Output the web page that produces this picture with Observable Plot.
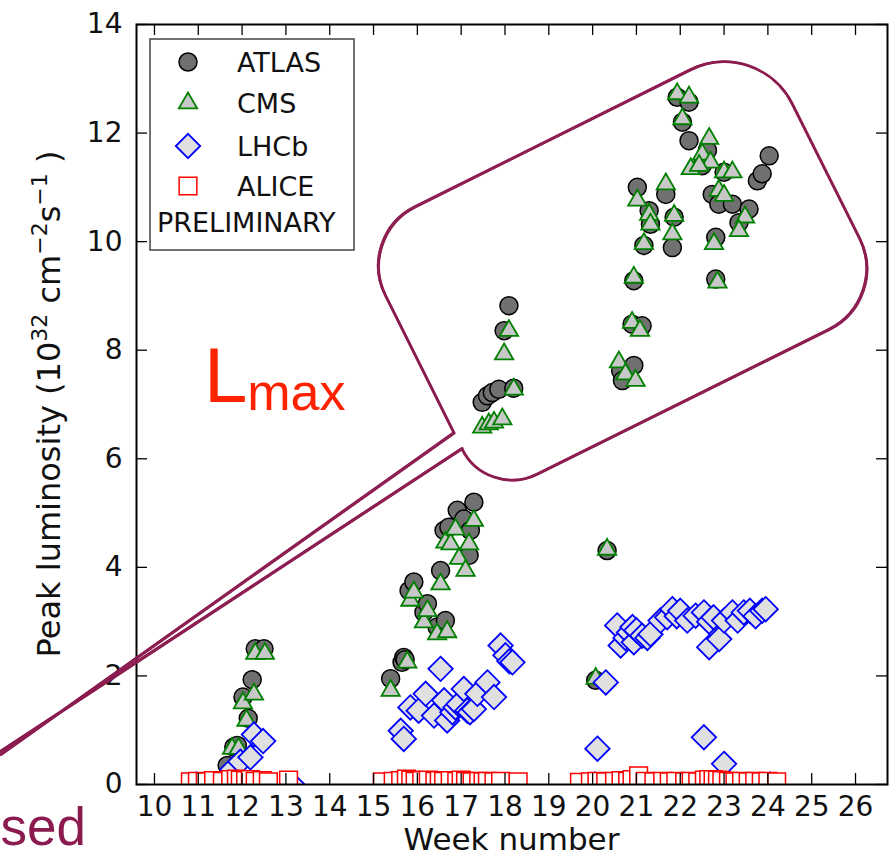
<!DOCTYPE html>
<html>
<head>
<meta charset="utf-8">
<script src="https://cdn.jsdelivr.net/npm/d3@7"></script>
<script src="https://cdn.jsdelivr.net/npm/@observablehq/plot@0.6"></script>
<style>
html, body { margin: 0; padding: 0; background: #fff; }
#chart svg { display: block; }
</style>
</head>
<body>
<div id="chart"></div>
<script>
// ---------------- data (week number, peak luminosity in 1e32 cm^-2 s^-1) ----------------
const xTicks = [10, 11, 12, 13, 14, 15, 16, 17, 18, 19, 20, 21, 22, 23, 24, 25, 26];
const yTicks = [0, 2, 4, 6, 8, 10, 12, 14];
const seriesNames = ["ATLAS", "CMS", "LHCb", "ALICE"];

const atlas = [
  [11.66, 0.35], [11.81, 0.69], [11.89, 0.72], [12.02, 1.61], [12.14, 1.22], [12.23, 1.93], [12.30, 2.50], [12.50, 2.50],
  [15.39, 1.95], [15.65, 2.25], [15.69, 2.34], [15.72, 2.30], [15.81, 3.57], [15.92, 3.73], [16.15, 3.17], [16.23, 3.33],
  [16.45, 2.90], [16.64, 3.02], [16.53, 3.94], [16.61, 4.68], [16.72, 4.74], [16.91, 5.05], [17.06, 4.89], [17.21, 4.68],
  [17.18, 4.22], [17.29, 5.20],
  [17.48, 7.04], [17.60, 7.16], [17.71, 7.22], [17.86, 7.28], [18.20, 7.30], [17.98, 8.36], [18.09, 8.82],
  [20.07, 1.92], [20.33, 4.31],
  [20.64, 7.62], [20.68, 7.44], [20.94, 7.72], [20.90, 8.48], [21.13, 8.45], [20.94, 9.28],
  [21.02, 11.00], [21.29, 10.57], [21.32, 10.32], [21.17, 9.93], [21.67, 10.87], [21.86, 10.45], [21.82, 9.89],
  [21.93, 12.66], [22.20, 12.57], [22.05, 12.20], [22.20, 11.86], [22.62, 11.68], [22.50, 11.40], [23.00, 11.28],
  [22.73, 10.87], [22.88, 10.69], [23.19, 10.69], [23.34, 10.35], [23.57, 10.60], [22.81, 10.08], [22.81, 9.31],
  [23.76, 11.12], [23.87, 11.25], [24.03, 11.58]
];

const cms = [
  [11.77, 0.66], [11.92, 0.66], [12.02, 1.50], [12.10, 1.18], [12.27, 1.66], [12.30, 2.41], [12.52, 2.41],
  [15.39, 1.73], [15.77, 2.25], [15.84, 3.39], [15.92, 3.54], [16.15, 2.99], [16.23, 3.20], [16.45, 2.77], [16.68, 2.81],
  [16.53, 3.69], [16.64, 4.46], [16.76, 4.43], [16.87, 4.70], [16.95, 4.16], [17.10, 3.94], [17.18, 4.43], [17.29, 4.86],
  [17.48, 6.58], [17.63, 6.64], [17.75, 6.67], [17.94, 6.73], [18.20, 7.28], [17.98, 7.93], [18.09, 8.36],
  [20.07, 1.95], [20.33, 4.33],
  [20.60, 7.78], [20.75, 7.56], [20.98, 7.44], [20.90, 8.51], [21.08, 8.36], [20.94, 9.34],
  [21.02, 10.76], [21.29, 10.50], [21.32, 10.32], [21.17, 9.96], [21.67, 11.06], [21.86, 10.48], [21.82, 10.14],
  [21.93, 12.72], [22.20, 12.66], [22.05, 12.26], [22.66, 11.90], [22.50, 11.61], [22.69, 11.46], [22.24, 11.34],
  [22.43, 11.40], [23.00, 11.28], [23.19, 11.28], [22.88, 10.94], [23.00, 10.85], [23.48, 10.45], [23.34, 10.20],
  [22.77, 9.96], [22.85, 9.25]
];

const lhcb = [
  [10.95, 0.00], [11.15, 0.00], [11.78, 0.28], [11.96, 0.42], [12.19, 0.50], [12.27, 0.92], [12.48, 0.80], [13.15, 0.00],
  [15.40, 0.00], [15.85, 0.00], [15.62, 0.99], [15.69, 0.84], [15.84, 1.42], [16.03, 1.36], [16.19, 1.67], [16.38, 1.27],
  [16.53, 2.13], [16.61, 1.55], [16.68, 1.18], [16.80, 1.33], [16.87, 1.42], [16.94, 1.48], [17.06, 1.76], [17.14, 1.36],
  [17.20, 1.33], [17.29, 1.39], [17.37, 1.67], [17.60, 1.88], [17.75, 1.61], [17.90, 2.56], [18.01, 2.38], [18.10, 2.27],
  [18.17, 2.25],
  [20.05, 0.00], [20.11, 0.66], [20.30, 1.88], [20.56, 2.93], [20.64, 2.56], [20.75, 2.70], [20.83, 2.80], [20.91, 2.90],
  [20.94, 2.62], [21.00, 2.84], [21.13, 2.74], [21.25, 2.70], [21.32, 2.77], [21.55, 3.02], [21.70, 3.08], [21.82, 3.23],
  [21.92, 3.10], [22.00, 3.20], [22.16, 3.02], [22.35, 3.11], [22.54, 3.17], [22.54, 0.87], [22.66, 3.00], [22.66, 2.53],
  [22.76, 3.08], [22.89, 2.68], [23.00, 3.02], [23.00, 0.38], [23.19, 3.17], [23.31, 3.02], [23.45, 3.17], [23.59, 3.20],
  [23.72, 3.10], [23.87, 3.20], [23.95, 3.23], [24.05, 0.00]
];

const alice = [
  [10.82, 0.05], [10.98, 0.06], [11.16, 0.05], [11.35, 0.07], [11.55, 0.06], [11.74, 0.09], [11.87, 0.10], [11.96, 0.08],
  [12.08, 0.07], [12.19, 0.09], [12.30, 0.06], [12.46, 0.07], [12.60, 0.05], [13.06, 0.08],
  [15.20, 0.05], [15.45, 0.06], [15.62, 0.07], [15.75, 0.10], [15.85, 0.08], [15.95, 0.06], [16.10, 0.07], [16.25, 0.08],
  [16.40, 0.06], [16.50, 0.07], [16.60, 0.06], [16.75, 0.07], [16.90, 0.06], [17.00, 0.08], [17.10, 0.06], [17.25, 0.05],
  [17.40, 0.06], [17.50, 0.05], [17.60, 0.06], [17.75, 0.05], [17.90, 0.06], [18.30, 0.05],
  [19.70, 0.04], [19.95, 0.05], [20.10, 0.06], [20.30, 0.05], [20.50, 0.06], [20.65, 0.07], [20.80, 0.06], [20.90, 0.09],
  [21.05, 0.16], [21.20, 0.06], [21.40, 0.05], [21.60, 0.06], [21.75, 0.05], [21.90, 0.06], [22.10, 0.05], [22.25, 0.06],
  [22.40, 0.05], [22.55, 0.08], [22.65, 0.09], [22.75, 0.09], [22.85, 0.08], [22.95, 0.07], [23.10, 0.06], [23.25, 0.05],
  [23.40, 0.06], [23.55, 0.05], [23.70, 0.06], [23.85, 0.05], [24.00, 0.06], [24.20, 0.05]
];

// annotation geometry (data coordinates): rotated callout box, pointer tail, labels
const calloutCorners = [[14.61, 10.09], [23.79, 13.78], [26.80, 8.93], [17.60, 5.25]]; // TL, TR, BR, BL
const calloutTail = [[6.48, 0.53], [6.48, 0.59]]; // upper, lower tail end (beyond left edge)
const calloutText = ["L", "max"];
const cutText = "sed";

// ---------------- layout / style ----------------
const W = 892, H = 859;
const M = {top: 24, right: 5, bottom: 75, left: 136};
const xDomain = [9.59, 26.73];
const yDomain = [0, 14];
const tickLen = 11;
const kx = (W - M.left - M.right) / (xDomain[1] - xDomain[0]);
const ky = (H - M.top - M.bottom) / (yDomain[1] - yDomain[0]);
const tdx = tickLen / kx, tdy = tickLen / ky;

const sty = {
  ATLAS: {symbol: "circle", r: 9, fill: "#707070", stroke: "#000000", strokeWidth: 1.5},
  CMS: {symbol: "triangle", r: 6.8, fill: "#c8c8c8", stroke: "#008000", strokeWidth: 1.8},
  LHCb: {symbol: "diamond2", r: 11, fill: "#e0e0e0", stroke: "#0000ff", strokeWidth: 1.8},
  ALICE: {symbol: "square", r: 10, fill: "#ffffff", stroke: "#ff0000", strokeWidth: 1.5}
};
const seriesData = {ATLAS: atlas, CMS: cms, LHCb: lhcb, ALICE: alice};
const FONT = "DejaVu Sans";

const marks = [];
for (const name of seriesNames) {
  marks.push(Plot.dot(seriesData[name], {x: d => d[0], y: d => d[1], ...sty[name], clip: true}));
}
marks.push(
  Plot.ruleX(xTicks, {x: d => d, y1: yDomain[0], y2: yDomain[0] + tdy, stroke: "#000", strokeWidth: 1.3}),
  Plot.ruleX(xTicks, {x: d => d, y1: yDomain[1] - tdy, y2: yDomain[1], stroke: "#000", strokeWidth: 1.3}),
  Plot.ruleY(yTicks, {y: d => d, x1: xDomain[0], x2: xDomain[0] + tdx, stroke: "#000", strokeWidth: 1.3}),
  Plot.ruleY(yTicks, {y: d => d, x1: xDomain[1] - tdx, x2: xDomain[1], stroke: "#000", strokeWidth: 1.3}),
  Plot.frame({stroke: "#000", strokeWidth: 2}),
  Plot.text(xTicks, {x: d => d, y: yDomain[0], text: d => String(d), dy: 23, fontSize: 28, fill: "#111"}),
  Plot.text(yTicks, {x: xDomain[0], y: d => d, text: d => String(d), dx: -14, textAnchor: "end", fontSize: 28, fill: "#111"})
);

const plot = Plot.plot({
  width: W, height: H,
  marginTop: M.top, marginRight: M.right, marginBottom: M.bottom, marginLeft: M.left,
  x: {domain: xDomain, axis: null},
  y: {domain: yDomain, axis: null},
  style: {background: "#fff", fontFamily: FONT, fontSize: "28px", overflow: "visible"},
  marks
});
const svgEl = plot.tagName.toLowerCase() === "svg" ? plot : plot.querySelector("svg");
document.getElementById("chart").appendChild(plot);

// scales from Plot
const sxD = plot.scale("x"), syD = plot.scale("y");
const sx = d3.scaleLinear(sxD.domain, sxD.range);
const sy = d3.scaleLinear(syD.domain, syD.range);
const P = d => [sx(d[0]), sy(d[1])];

const svg = d3.select(svgEl);

// ---------------- legend ----------------
const leg = svg.append("g").attr("text-anchor", "start");
leg.append("rect").attr("x", 150).attr("y", 39).attr("width", 204).attr("height", 211)
  .attr("fill", "#fff").attr("stroke", "#444").attr("stroke-width", 1.5);
const symMap = {circle: d3.symbolCircle, triangle: d3.symbolTriangle, diamond2: d3.symbolDiamond2 || d3.symbolSquare, square: d3.symbolSquare};
const rowY = [62, 103, 146, 186];
seriesNames.forEach((name, i) => {
  const s = sty[name];
  leg.append("path")
    .attr("d", d3.symbol(symMap[s.symbol], Math.PI * s.r * s.r)())
    .attr("transform", `translate(188,${rowY[i]})`)
    .attr("fill", s.fill).attr("stroke", s.stroke).attr("stroke-width", s.strokeWidth);
  leg.append("text").attr("x", 237).attr("y", rowY[i] + 10).attr("text-anchor", "start")
    .attr("font-family", FONT).attr("font-size", 27).attr("fill", "#111").text(name);
});
leg.append("text").attr("x", 157).attr("y", 232).attr("text-anchor", "start")
  .attr("font-family", FONT).attr("font-size", 27).attr("fill", "#111").text("PRELIMINARY");

// ---------------- axis titles ----------------
svg.append("text").attr("x", (M.left + W - M.right) / 2).attr("y", 850)
  .attr("text-anchor", "middle").attr("font-family", FONT).attr("font-size", 31).attr("fill", "#111")
  .text("Week number");
const yl = svg.append("text")
  .attr("transform", `translate(60,${(M.top + H - M.bottom) / 2}) rotate(-90)`)
  .attr("text-anchor", "middle").attr("font-family", FONT).attr("font-size", 32).attr("fill", "#111");
yl.append("tspan").text("Peak luminosity (10");
yl.append("tspan").attr("dy", -13).attr("font-size", 22).text("32");
yl.append("tspan").attr("dy", 13).text(" cm");
yl.append("tspan").attr("dy", -13).attr("font-size", 22).text("\u22122");
yl.append("tspan").attr("dy", 13).text("s");
yl.append("tspan").attr("dy", -13).attr("font-size", 22).text("\u22121");
yl.append("tspan").attr("dy", 13).text(" )");

// ---------------- callout annotation ----------------
const [TL, TR, BR, BL] = calloutCorners.map(P);
const lerp = (a, b, t) => [a[0] + (b[0] - a[0]) * t, a[1] + (b[1] - a[1]) * t];
const Pu = lerp(BL, TL, 0.252), Pl = lerp(BL, TL, 0.204);
const tailU = P(calloutTail[0]), tailL = P(calloutTail[1]);
const path = d3.path();
path.moveTo(...tailU);
path.lineTo(...Pu);
path.arcTo(TL[0], TL[1], TR[0], TR[1], 66);
path.arcTo(TR[0], TR[1], BR[0], BR[1], 76);
path.arcTo(BR[0], BR[1], BL[0], BL[1], 68);
path.arcTo(BL[0], BL[1], TL[0], TL[1], 56);
path.lineTo(Pl[0] + 2, Pl[1] + 3);
path.lineTo(...tailL);
const maroon = "#8b1a4f";
[[0, 0, 2.8], [1.0, 0.6, 1.2], [-0.9, -0.5, 1.2]].forEach(([dx, dy, w]) => {
  svg.append("path").attr("d", path.toString()).attr("transform", `translate(${dx},${dy})`)
    .attr("fill", "none").attr("stroke", maroon).attr("stroke-width", w)
    .attr("stroke-linejoin", "round").attr("opacity", 0.95);
});

// ---------------- labels ----------------
const lm = svg.append("text").attr("x", sx(11.14)).attr("y", sy(7.04)).attr("text-anchor", "start")
  .attr("font-family", "Liberation Sans").attr("fill", "#ff2200");
lm.append("tspan").attr("font-size", 78).text(calloutText[0]);
lm.append("tspan").attr("font-size", 52).attr("dy", 8).text(calloutText[1]);

svg.append("text").attr("x", sx(8.45)).attr("y", sy(-1.12)).attr("text-anchor", "end")
  .attr("font-family", "Liberation Sans").attr("font-size", 53).attr("fill", maroon).text(cutText);
</script>
</body>
</html>
